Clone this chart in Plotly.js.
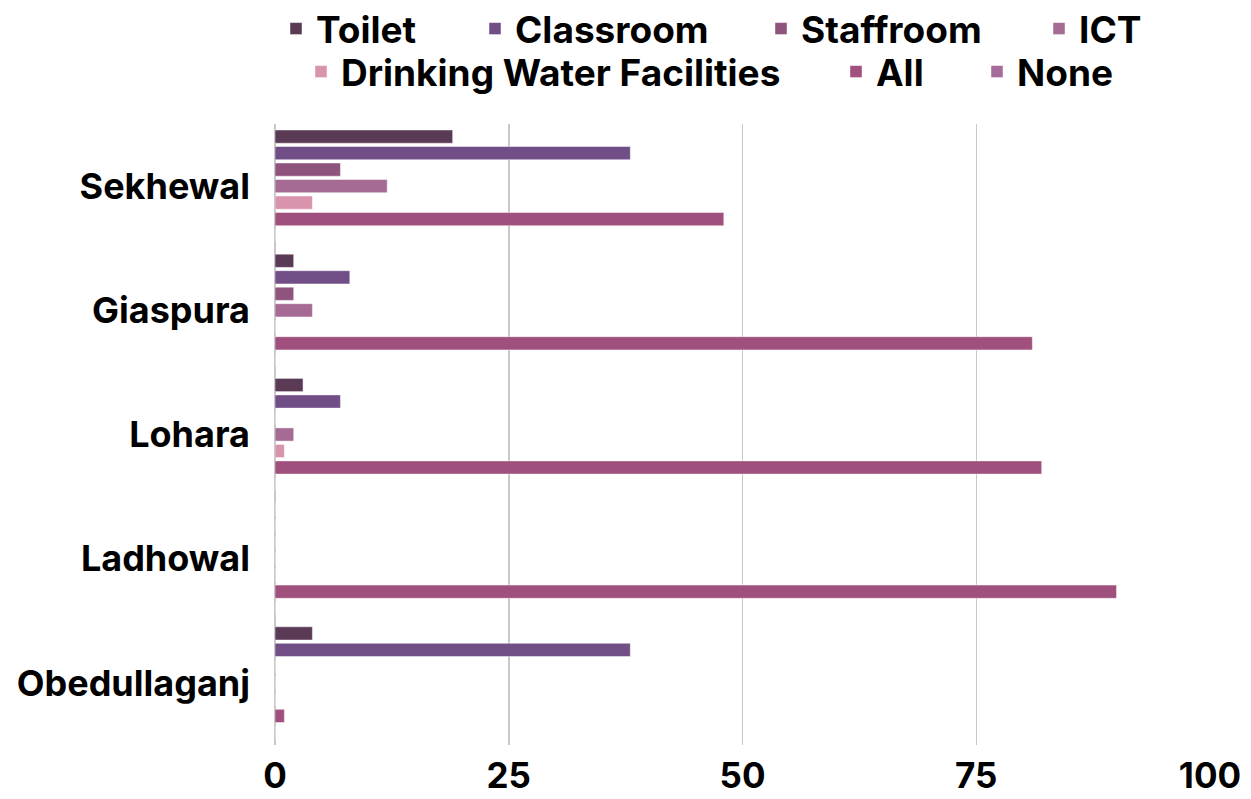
<!DOCTYPE html>
<html>
<head>
<meta charset="utf-8">
<script src="https://cdn.plot.ly/plotly-3.0.1.min.js"></script>
<style>html,body{margin:0;padding:0;background:#fff;}#chart{width:1251px;height:799px;}</style>
</head>
<body>
<div id="chart"></div>
<script>
const categories = ["Sekhewal", "Giaspura", "Lohara", "Ladhowal", "Obedullaganj"];
const seriesNames = ["Toilet", "Classroom", "Staffroom", "ICT", "Drinking Water Facilities", "All", "None"];
const toilet    = [19, 2, 3, 0, 4];
const classroom = [38, 8, 7, 0, 38];
const staffroom = [7, 2, 0, 0, 0];
const ict       = [12, 4, 2, 0, 0];
const drinking  = [4, 0, 1, 0, 0];
const allFac    = [48, 81, 82, 90, 1];
const none      = [0, 0, 0, 0, 0];
const seriesValues = [toilet, classroom, staffroom, ict, drinking, allFac, none];
const colors = ["#5b3a55", "#714e86", "#8f547e", "#a56b94", "#d994ad", "#a0507c", "#a56b9a"];
const xTicks = [0, 25, 50, 75, 100];

// legend entry placement (pixels in the 1251x799 page): left edge of marker, row centre
const legendMarkerLeft = [287, 486, 772, 1050, 312, 847, 988];
const legendRowY = [29, 29, 29, 29, 72, 72, 72];

const W = 1251, H = 799;
const legendFont = { family: "Inter, sans-serif", size: 37, weight: "bold", color: "#000" };

const traces = seriesNames.map((name, i) => ({
  type: "bar",
  orientation: "h",
  name: name,
  y: categories,
  x: seriesValues[i],
  legend: i === 0 ? "legend" : "legend" + (i + 1),
  marker: { color: colors[i], line: { color: "rgba(255,255,255,0.45)", width: 1 } },
  hoverinfo: "x+name"
}));

const layout = {
  width: W,
  height: H,
  paper_bgcolor: "#ffffff",
  plot_bgcolor: "#ffffff",
  margin: { l: 275, r: 41, t: 124, b: 54, autoexpand: false },
  barmode: "group",
  bargap: 0.07,
  bargroupgap: 0.2,
  font: { family: "Inter, 'DejaVu Sans', sans-serif", color: "#000" },
  showlegend: true,
  xaxis: {
    range: [0, 100],
    tickvals: xTicks,
    ticktext: xTicks.map(String),
    showgrid: true,
    gridcolor: "#c8c8c8",
    gridwidth: 1.5,
    zeroline: true,
    zerolinecolor: "#c8c8c8",
    zerolinewidth: 1.5,
    showline: false,
    ticks: "",
    ticklabelstandoff: 7,
    tickfont: { family: "Inter, sans-serif", size: 35, weight: "bold", color: "#000" }
  },
  yaxis: {
    type: "category",
    autorange: "reversed",
    showgrid: false,
    zeroline: false,
    showline: false,
    ticks: "",
    ticklabelstandoff: 24,
    tickfont: { family: "Inter, sans-serif", size: 36, weight: "bold", color: "#000" }
  }
};

seriesNames.forEach((name, i) => {
  const key = i === 0 ? "legend" : "legend" + (i + 1);
  layout[key] = {
    orientation: "h",
    xref: "container", yref: "container",
    x: (legendMarkerLeft[i] - 11) / W, xanchor: "left",
    y: 1 - legendRowY[i] / H, yanchor: "middle",
    bgcolor: "rgba(0,0,0,0)",
    borderwidth: 0,
    font: legendFont
  };
});

Plotly.newPlot("chart", traces, layout, { displayModeBar: false, staticPlot: true });
</script>
</body>
</html>
